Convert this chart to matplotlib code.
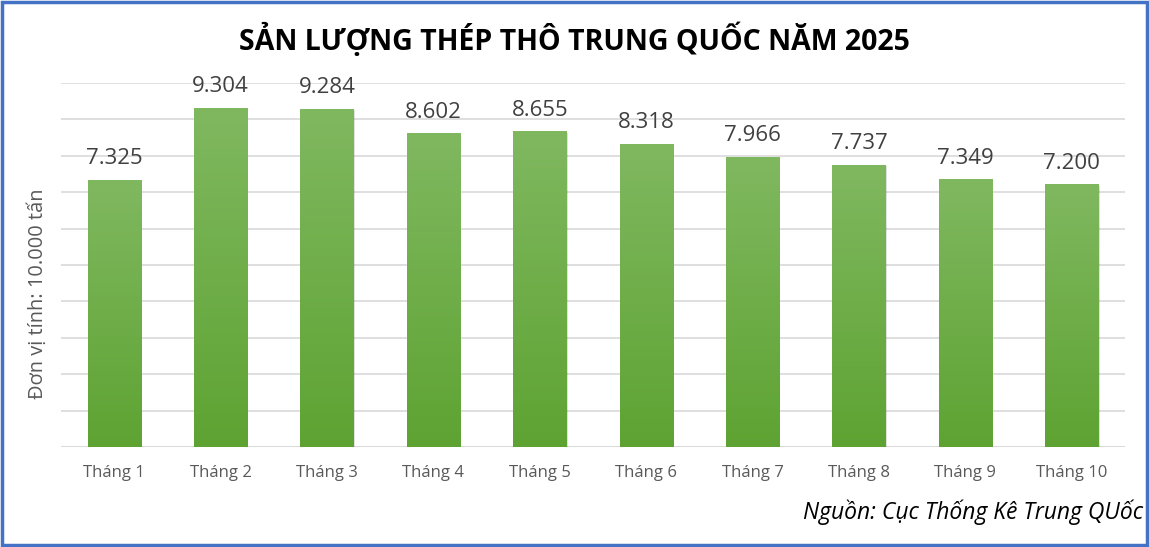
import numpy as np
import matplotlib
matplotlib.use("Agg")
import matplotlib.pyplot as plt
from matplotlib.patches import Rectangle

plt.rcParams["font.family"] = ["Open Sans", "DejaVu Sans"]

months = ["Tháng 1", "Tháng 2", "Tháng 3", "Tháng 4", "Tháng 5",
          "Tháng 6", "Tháng 7", "Tháng 8", "Tháng 9", "Tháng 10"]
output = [7.325, 9.304, 9.284, 8.602, 8.655, 8.318, 7.966, 7.737, 7.349, 7.200]
labels = ["7.325", "9.304", "9.284", "8.602", "8.655",
          "8.318", "7.966", "7.737", "7.349", "7.200"]

TOP_C, BOT_C = np.array([0x80, 0xB8, 0x60]) / 255, np.array([0x5E, 0xA3, 0x32]) / 255

fig = plt.figure(figsize=(11.49, 5.47), dpi=100)
ax = fig.add_axes([0.0531, 0.1828, 0.9260, 0.6655])

x = np.arange(len(months))
bars = ax.bar(x, output, width=0.5, color="none", zorder=3)

# vertical gradient in each bar
grad = np.linspace(0, 1, 256)[:, None]
cmap = matplotlib.colors.LinearSegmentedColormap.from_list("g", [BOT_C, TOP_C])
for b in bars:
    x0, w, h = b.get_x(), b.get_width(), b.get_height()
    # soft shadow
    ax.add_patch(Rectangle((x0 + 0.012, 0), w, h - 0.02, color="#000000",
                           alpha=0.12, lw=0, zorder=2))
    ax.imshow(grad, extent=(x0, x0 + w, 0, h), origin="lower", cmap=cmap,
              aspect="auto", zorder=3)

for xi, v, lab in zip(x, output, labels):
    ax.text(xi, v + 0.3, lab, ha="center", va="bottom", fontsize=16,
            color="#404040")

ax.set_xlim(-0.5, len(months) - 0.5)
ax.set_ylim(0, 10)
ax.set_yticks(np.arange(0, 11, 1))
ax.set_yticklabels([])
ax.tick_params(axis="y", length=0)
ax.tick_params(axis="x", length=0, pad=13, labelsize=12, labelcolor="#595959")
ax.set_xticks(x)
ax.set_xticklabels(months)
ax.grid(axis="y", color="#d9d9d9", lw=1.2, zorder=0)
for s in ax.spines.values():
    s.set_visible(False)
ax.axhline(0, color="#d9d9d9", lw=1.2, zorder=1)

ax.set_ylabel("Đơn vị tính: 10.000 tấn", fontsize=14.4, color="#595959", labelpad=4)
ax.yaxis.set_label_coords(-0.012, 0.42)

fig.text(0.5, 0.927, "SẢN LƯỢNG THÉP THÔ TRUNG QUỐC NĂM 2025", ha="center",
         va="center", fontsize=20.5, fontweight="bold", color="#000000")
fig.text(0.995, 0.063, "Nguồn: Cục Thống Kê Trung QUốc", ha="right", va="center",
         fontsize=16.5, style="italic", color="#000000")

# blue frame around the chart
fig.add_artist(Rectangle((0.0015, 0.003), 0.997, 0.994, transform=fig.transFigure,
                         fill=False, ec="#4472C4", lw=2.5))

fig.savefig("out.png", dpi=100)
